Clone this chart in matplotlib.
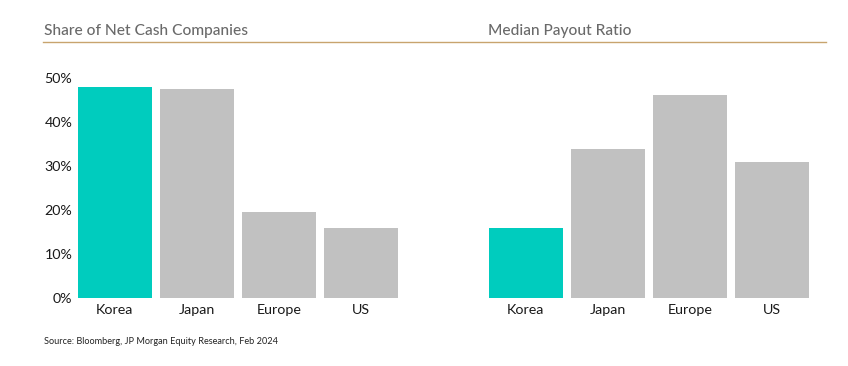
import matplotlib.pyplot as plt
from matplotlib.lines import Line2D

plt.rcParams['font.family'] = ['Lato', 'DejaVu Sans']

categories = ['Korea', 'Japan', 'Europe', 'US']
net_cash_share = [48.0, 47.5, 19.5, 15.9]
payout_ratio = [15.9, 33.9, 46.1, 30.9]
yticks = [0, 10, 20, 30, 40, 50]

teal = '#00CCBE'
grey = '#C1C1C1'
colors = [teal, grey, grey, grey]

fig = plt.figure(figsize=(8.48, 3.66), dpi=100)

ax1 = fig.add_axes([78/848, 68/366, 320/848, 220/366])
ax2 = fig.add_axes([489/848, 68/366, 320/848, 220/366])

for ax, vals in [(ax1, net_cash_share), (ax2, payout_ratio)]:
    ax.bar(range(len(categories)), vals, width=0.9, color=colors)
    ax.set_xlim(-0.45, 3.45)
    ax.set_ylim(0, 50)
    ax.set_xticks(range(len(categories)))
    ax.set_xticklabels(categories, fontsize=10.3, color='#1a1a1a')
    ax.tick_params(axis='both', length=0, pad=4)
    for s in ax.spines.values():
        s.set_visible(False)

ax1.set_yticks(yticks)
ax1.set_yticklabels(['%d%%' % t for t in yticks], fontsize=10.3, color='#1a1a1a')
ax2.set_yticks([])

# titles and rule line
fig.text(44/848, 1 - 31/366, 'Share of Net Cash Companies', fontsize=11.2,
         color='#6a6a6a', va='center', ha='left', weight='medium')
fig.text(488/848, 1 - 31/366, 'Median Payout Ratio', fontsize=11.2,
         color='#6a6a6a', va='center', ha='left', weight='medium')
fig.add_artist(Line2D([43/848, 826/848], [1 - 42/366, 1 - 42/366],
                      color='#C8A46E', lw=1.0, transform=fig.transFigure))

fig.text(44/848, 1 - 341/366, 'Source: Bloomberg, JP Morgan Equity Research, Feb 2024',
         fontsize=6.6, color='#222222', va='center', ha='left')

fig.savefig('out.png', dpi=100)
